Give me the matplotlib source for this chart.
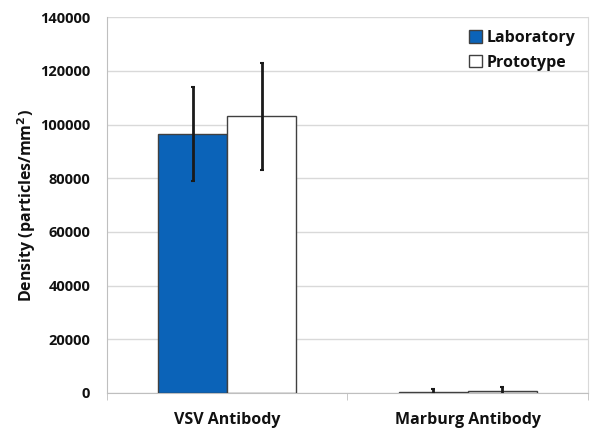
import matplotlib.pyplot as plt
import numpy as np

# data
groups = ['VSV Antibody', 'Marburg Antibody']
lab = [96500, 500]
lab_err = [17500, 1100]
proto = [103000, 800]
proto_err = [20000, 1400]

plt.rcParams['font.family'] = ['Open Sans', 'DejaVu Sans']

fig = plt.figure(figsize=(6, 4.41), dpi=100)
ax = fig.add_axes([0.178, 0.109, 0.802, 0.852])

ind = np.arange(len(groups))
width = 0.287
ax.bar(ind - width / 2, lab, width, color='#0b63b8', edgecolor='#404040',
       linewidth=1, label='Laboratory', zorder=3)
ax.bar(ind + width / 2, proto, width, color='white', edgecolor='#404040',
       linewidth=1, label='Prototype', zorder=3)
ax.errorbar(ind - width / 2, lab, yerr=lab_err, fmt='none', ecolor='#1a1a1a',
            elinewidth=2, capsize=1.2, capthick=1.5, zorder=4)
ax.errorbar(ind + width / 2, proto, yerr=proto_err, fmt='none', ecolor='#1a1a1a',
            elinewidth=2, capsize=1.2, capthick=1.5, zorder=4)

ax.set_xlim(-0.5, 1.5)
ax.set_ylim(0, 140000)
ax.set_yticks(np.arange(0, 140001, 20000))
ax.yaxis.grid(True, color='#d9d9d9', linewidth=1, zorder=0)
ax.set_xticks(ind)
ax.set_xticklabels(groups, fontsize=11.5, fontweight='bold', color='#111111')
ax.set_xticks([-0.5, 0.5, 1.5], minor=True)
ax.tick_params(axis='x', which='major', length=0, pad=14)
ax.tick_params(axis='x', which='minor', length=5, color='#bfbfbf')
ax.tick_params(axis='y', length=0, labelsize=10.5, pad=12, labelcolor='#111111')
for t in ax.get_yticklabels():
    t.set_fontweight('bold')
ax.set_ylabel('Density (particles/mm$^\\mathbf{2}$)', fontsize=11.5,
              fontweight='bold', color='#111111', labelpad=1)

ax.spines['top'].set_visible(False)
ax.spines['left'].set_color('#bfbfbf')
ax.spines['bottom'].set_color('#bfbfbf')
ax.spines['right'].set_color('#d9d9d9')

leg = ax.legend(loc='upper right', frameon=False,
                prop={'weight': 'bold', 'size': 11.5},
                handlelength=0.8, handleheight=0.8, handletextpad=0.3,
                labelspacing=0.55, borderaxespad=0.4)
for t in leg.get_texts():
    t.set_color('#111111')

fig.savefig('out.png')
